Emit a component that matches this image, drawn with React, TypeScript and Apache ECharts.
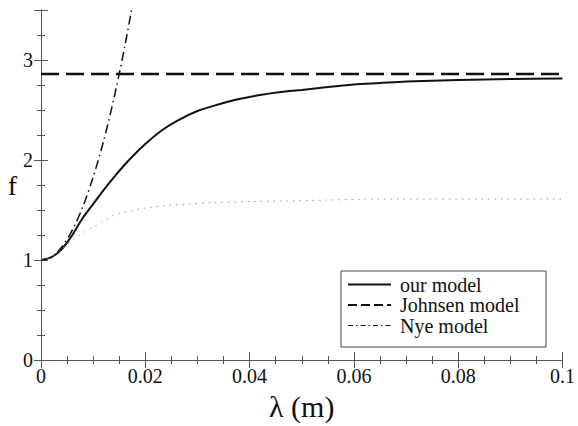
import React, { useEffect, useRef } from "react";
import * as echarts from "echarts";

const ourX = [0, 0.002, 0.004, 0.006, 0.008, 0.010, 0.012, 0.014, 0.016, 0.018, 0.020, 0.023, 0.026, 0.030, 0.034, 0.038, 0.042, 0.046, 0.050, 0.055, 0.060, 0.065, 0.070, 0.080, 0.090, 0.100];
const ourY = [1.00, 1.03, 1.11, 1.25, 1.42, 1.56, 1.70, 1.83, 1.95, 2.06, 2.16, 2.29, 2.39, 2.49, 2.555, 2.61, 2.65, 2.68, 2.70, 2.73, 2.755, 2.77, 2.785, 2.80, 2.81, 2.815];

const johnsenX = [0, 0.1];
const johnsenY = [2.86, 2.86];

const nyeX = [0, 0.002, 0.004, 0.006, 0.008, 0.010, 0.012, 0.014, 0.016, 0.018];
const nyeY = [1.00, 1.03, 1.13, 1.30, 1.53, 1.83, 2.19, 2.62, 3.12, 3.68];

const dotX = [0, 0.002, 0.004, 0.006, 0.008, 0.010, 0.012, 0.014, 0.017, 0.020, 0.024, 0.028, 0.033, 0.040, 0.047, 0.055, 0.065, 0.075, 0.085, 0.1];
const dotY = [1.00, 1.03, 1.11, 1.20, 1.27, 1.33, 1.39, 1.45, 1.49, 1.52, 1.545, 1.56, 1.575, 1.585, 1.59, 1.60, 1.61, 1.61, 1.61, 1.61];

const xTickLabels = ["0", "0.02", "0.04", "0.06", "0.08", "0.1"];
const legendNames = ["our model", "Johnsen model", "Nye model"];
const legendDash: (number[] | null)[] = [null, [9, 4], [5, 3, 1.5, 3]];
const legendWidth = [2, 2, 1.2];

const zip = (xs: number[], ys: number[]) => xs.map((x, i) => [x, ys[i]]);

const FONT = "Liberation Serif";

export default function App() {
  const ref = useRef<HTMLDivElement>(null);
  useEffect(() => {
    if (!ref.current) return;
    const chart = echarts.init(ref.current, null, { renderer: "svg" });
    const axisLine = { show: true, lineStyle: { color: "#555", width: 1 } };
    const xCommon = {
      type: "value" as const,
      min: 0,
      max: 0.1,
      interval: 0.02,
      splitLine: { show: false },
      axisLine,
      axisTick: { inside: true, length: 8, lineStyle: { color: "#555" } },
      minorTick: { show: true, splitNumber: 4, length: 4, lineStyle: { color: "#555" } },
    };
    const yCommon = {
      type: "value" as const,
      min: 0,
      max: 3.5,
      interval: 1,
      splitLine: { show: false },
      axisLine,
      axisTick: { inside: true, length: 7, lineStyle: { color: "#555" } },
      minorTick: { show: true, splitNumber: 4, length: 4, lineStyle: { color: "#555" } },
    };
    const legendGraphics: any[] = [
      {
        type: "rect",
        shape: { x: 341, y: 271, width: 205, height: 76 },
        style: { fill: "#fff", stroke: "#444", lineWidth: 1 },
        z: 10,
      },
    ];
    legendNames.forEach((name, i) => {
      const y = 284.5 + i * 20.5;
      legendGraphics.push({
        type: "line",
        shape: { x1: 348, y1: y, x2: 391, y2: y },
        style: { stroke: "#111", lineWidth: legendWidth[i], lineDash: legendDash[i] || undefined },
        z: 11,
      });
      legendGraphics.push({
        type: "text",
        x: 400,
        y: y,
        style: { text: name, fontFamily: FONT, fontSize: 20, fill: "#111", verticalAlign: "middle", align: "left" },
        z: 11,
      });
    });
    chart.setOption({
      animation: false,
      textStyle: { fontFamily: FONT },
      grid: { left: 41, right: 11, top: 10, bottom: 52 },
      xAxis: [
        {
          ...xCommon,
          position: "bottom",
          name: "λ (m)",
          nameLocation: "middle",
          nameGap: 20,
          nameTextStyle: { fontFamily: FONT, fontSize: 30, color: "#111", verticalAlign: "top" },
          axisLabel: {
            fontFamily: FONT,
            fontSize: 20,
            color: "#111",
            margin: 6,
            formatter: (v: number) => xTickLabels[Math.round(v / 0.02)] ?? "",
          },
        },
        { ...xCommon, position: "top", axisLabel: { show: false } },
      ],
      yAxis: [
        {
          ...yCommon,
          position: "left",
          name: "f",
          nameLocation: "middle",
          nameRotate: 0,
          nameGap: 24,
          nameTextStyle: { fontFamily: FONT, fontSize: 28, color: "#111" },
          axisLabel: { fontFamily: FONT, fontSize: 20, color: "#111", margin: 8, showMaxLabel: false },
        },
        { ...yCommon, position: "right", axisLabel: { show: false } },
      ],
      graphic: legendGraphics,
      series: [
        {
          name: "our model",
          type: "line",
          data: zip(ourX, ourY),
          smooth: 0.3,
          symbol: "none",
          lineStyle: { color: "#111", width: 2, type: "solid" },
        },
        {
          name: "Johnsen model",
          type: "line",
          data: zip(johnsenX, johnsenY),
          symbol: "none",
          lineStyle: { color: "#111", width: 2.5, type: [18, 7] },
        },
        {
          name: "Nye model",
          type: "line",
          data: zip(nyeX, nyeY),
          smooth: 0.3,
          symbol: "none",
          lineStyle: { color: "#111", width: 1.5, type: [9, 4, 1.5, 4] },
        },
        {
          name: "dotted",
          type: "line",
          data: zip(dotX, dotY),
          smooth: 0.3,
          symbol: "none",
          lineStyle: { color: "#999", width: 1, type: [1.5, 5] },
        },
      ],
    });
    return () => chart.dispose();
  }, []);
  return <div ref={ref} style={{ width: 578, height: 426, position: "absolute", left: 0, top: 0 }} />;
}
